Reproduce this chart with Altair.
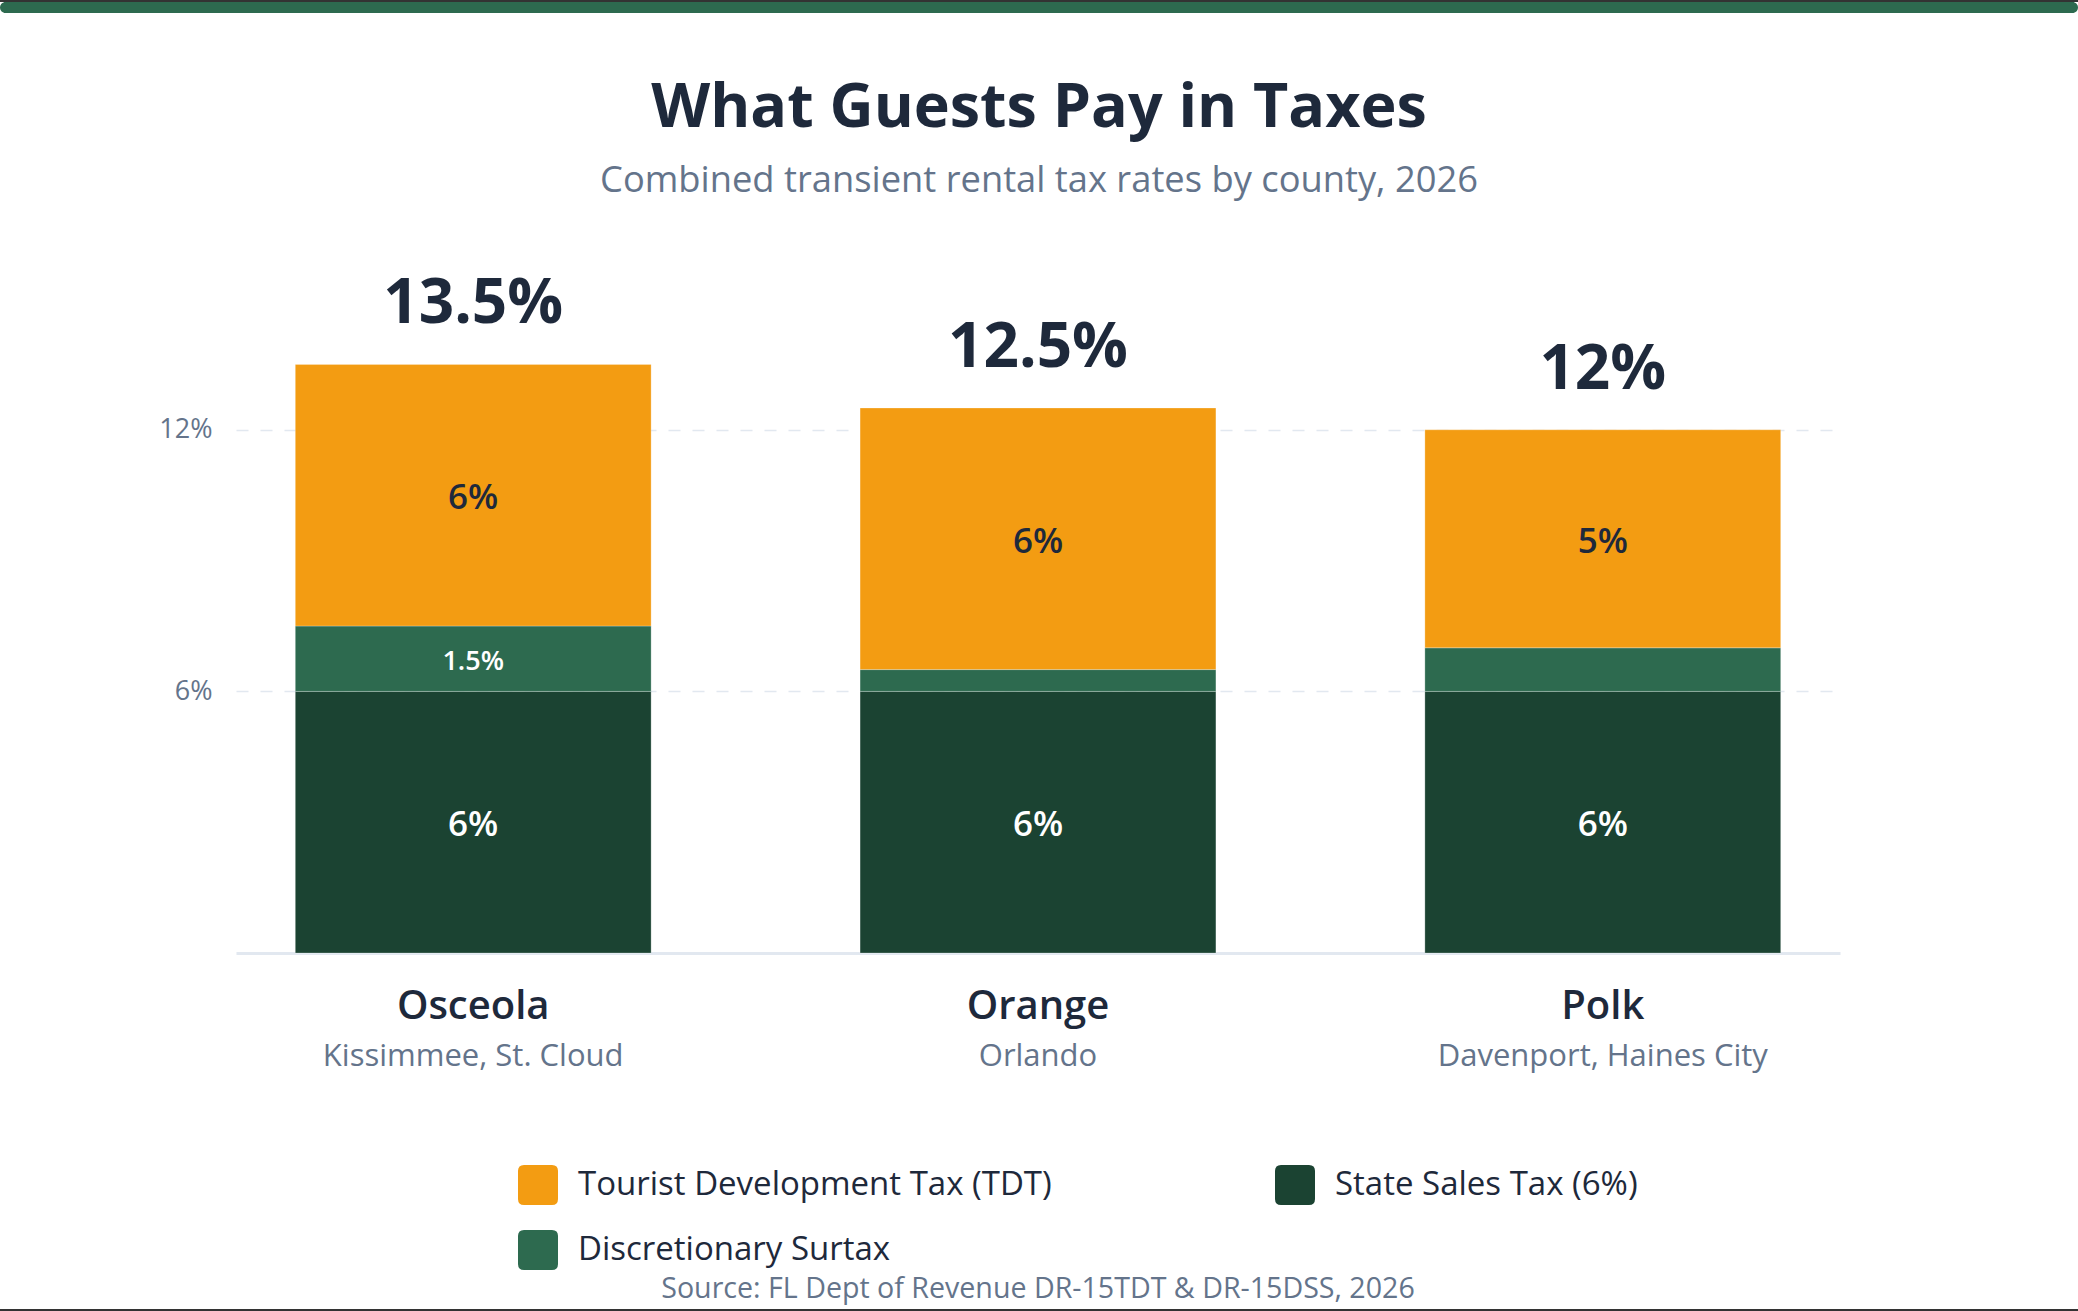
import altair as alt
import pandas as pd

# ---------------- data ----------------
counties = ["Osceola", "Orange", "Polk"]
cities = ["Kissimmee, St. Cloud", "Orlando", "Davenport, Haines City"]
state_tax = [6, 6, 6]
surtax = [1.5, 0.5, 1.0]
tdt = [6, 6, 5]
totals = [13.5, 12.5, 12]
total_labels = ["13.5%", "12.5%", "12%"]

series_names = ["Tourist Development Tax (TDT)", "State Sales Tax (6%)", "Discretionary Surtax"]
series_colors = ["#F39C12", "#1B4332", "#2D6A4F"]
stack_rank = ["State Sales Tax (6%)", "Discretionary Surtax", "Tourist Development Tax (TDT)"]

TITLE = "What Guests Pay in Taxes"
SUBTITLE = "Combined transient rental tax rates by county, 2026"
SOURCE = "Source: FL Dept of Revenue DR-15TDT & DR-15DSS, 2026"

# ---------------- tables ----------------
rows = []
for i, c in enumerate(counties):
    vals = {"State Sales Tax (6%)": state_tax[i],
            "Discretionary Surtax": surtax[i],
            "Tourist Development Tax (TDT)": tdt[i]}
    for s in stack_rank:
        v = vals[s]
        rows.append({"county": c, "series": s, "value": v,
                     "order": stack_rank.index(s),
                     "label": f"{v:g}%"})
df = pd.DataFrame(rows)
df_c = pd.DataFrame({"county": counties, "city": cities, "total": totals, "total_label": total_labels})
one = pd.DataFrame({"t": [TITLE], "s": [SUBTITLE], "src": [SOURCE]})

W, H = 1604, 654
FONT = "Open Sans"
DARK = "#1e293b"
MUTED = "#64748b"

xscale = alt.Scale(domain=counties, paddingInner=0.37, paddingOuter=0.105)
yscale = alt.Scale(domain=[0, 15], nice=False)

rounded = ("M -0.7,-1 L 0.7,-1 Q 1,-1 1,-0.7 L 1,0.7 Q 1,1 0.7,1 L -0.7,1 "
           "Q -1,1 -1,0.7 L -1,-0.7 Q -1,-1 -0.7,-1 Z")

bars = alt.Chart(df).mark_bar(stroke="white", strokeWidth=1, strokeOpacity=0.25).encode(
    x=alt.X("county:N", scale=xscale, sort=counties,
            axis=alt.Axis(labels=False, ticks=False, title=None, domain=True,
                          domainColor="#e2e8f0", domainWidth=3, grid=False)),
    y=alt.Y("value:Q", stack="zero", scale=yscale,
            axis=alt.Axis(values=[6, 12], labelExpr="datum.value + '%'", grid=True,
                          gridDash=[12, 12], gridColor="#e2e8f0", gridWidth=1.5,
                          domain=False, ticks=False, labelFontSize=27, labelColor=MUTED,
                          labelFont=FONT, labelPadding=24, title=None)),
    color=alt.Color("series:N", scale=alt.Scale(domain=series_names, range=series_colors),
                    legend=alt.Legend(orient="none", legendX=282, legendY=866, columns=2,
                                      direction="horizontal", title=None, padding=0,
                                      symbolType=rounded, symbolSize=1600,
                                      symbolStrokeWidth=0, symbolOpacity=1,
                                      labelFontSize=33, labelFont=FONT, labelColor=DARK,
                                      labelOffset=20, labelLimit=1000,
                                      rowPadding=25, columnPadding=223)),
    order=alt.Order("order:Q"),
)

stacked = alt.Chart(df).transform_stack(
    stack="value", groupby=["county"], as_=["y0", "y1"],
    sort=[alt.SortField("order", order="ascending")]
).transform_calculate(mid="(datum.y0 + datum.y1) / 2")

seg_big = stacked.transform_filter("datum.value >= 5").mark_text(
    font=FONT, fontSize=35, fontWeight=600, baseline="middle", dy=3).encode(
    x=alt.X("county:N", scale=xscale, sort=counties),
    y=alt.Y("mid:Q", scale=yscale),
    text="label:N",
    color=alt.condition("datum.series == 'Tourist Development Tax (TDT)'",
                        alt.value(DARK), alt.value("white")),
)

seg_small = stacked.transform_filter("datum.value >= 1.5 && datum.value < 5").mark_text(
    font=FONT, fontSize=27, fontWeight=600, baseline="middle", color="white", dy=3).encode(
    x=alt.X("county:N", scale=xscale, sort=counties),
    y=alt.Y("mid:Q", scale=yscale),
    text="label:N",
)

total_text = alt.Chart(df_c).mark_text(
    font=FONT, fontSize=62, fontWeight="bold", color=DARK, baseline="alphabetic", dy=-41).encode(
    x=alt.X("county:N", scale=xscale, sort=counties),
    y=alt.Y("total:Q", scale=yscale),
    text="total_label:N",
)

county_text = alt.Chart(df_c).mark_text(
    font=FONT, fontSize=40, fontWeight=600, color=DARK, baseline="alphabetic").encode(
    x=alt.X("county:N", scale=xscale, sort=counties),
    y=alt.value(H + 66),
    text="county:N",
)

city_text = alt.Chart(df_c).mark_text(
    font=FONT, fontSize=31, color=MUTED, baseline="alphabetic").encode(
    x=alt.X("county:N", scale=xscale, sort=counties),
    y=alt.value(H + 113),
    text="city:N",
)

title_text = alt.Chart(one).mark_text(
    font=FONT, fontSize=61, fontWeight="bold", color=DARK, baseline="alphabetic").encode(
    x=alt.value(803), y=alt.value(-172), text="t:N")

subtitle_text = alt.Chart(one).mark_text(
    font=FONT, fontSize=36.3, color=MUTED, baseline="alphabetic").encode(
    x=alt.value(803), y=alt.value(-107), text="s:N")

source_text = alt.Chart(one).mark_text(
    font=FONT, fontSize=28.6, color=MUTED, baseline="alphabetic").encode(
    x=alt.value(802), y=alt.value(999), text="src:N")

top_band = alt.Chart(one).mark_rect(color="#2D6A4F", cornerRadius=6).encode(
    x=alt.value(-236), x2=alt.value(W + 238), y=alt.value(-297), y2=alt.value(-286))
top_line = alt.Chart(one).mark_rect(color="#333333").encode(
    x=alt.value(-236), x2=alt.value(W + 238), y=alt.value(-299), y2=alt.value(-297))
bottom_line = alt.Chart(one).mark_rect(color="#333333").encode(
    x=alt.value(-236), x2=alt.value(W + 238), y=alt.value(H + 356), y2=alt.value(H + 358))

chart = alt.layer(
    bars, seg_big, seg_small, total_text, county_text, city_text,
    title_text, subtitle_text, source_text, top_band, top_line, bottom_line
).properties(
    width=W, height=H,
    autosize=alt.AutoSizeParams(type="none"),
    padding={"left": 236, "top": 299, "right": 238, "bottom": 358},
    background="white",
).configure_view(stroke=None)

chart.save("out.html", embed_options={"renderer": "svg", "actions": False})
